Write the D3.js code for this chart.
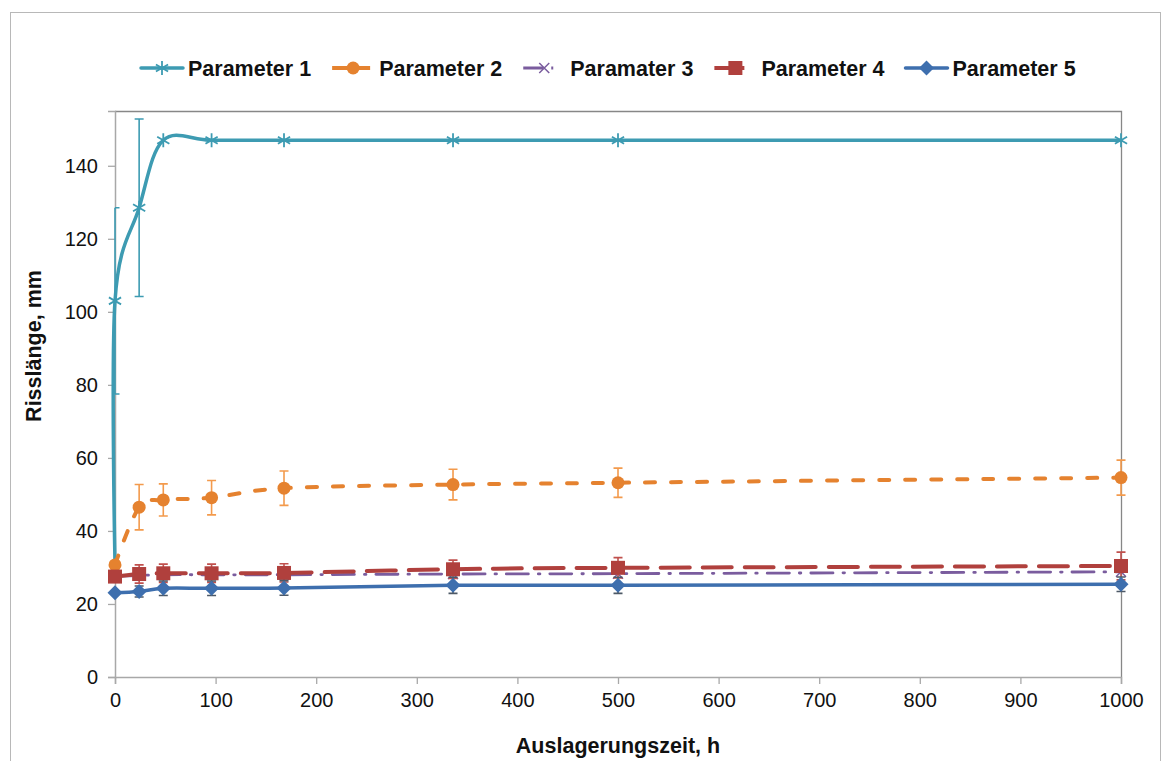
<!DOCTYPE html>
<html>
<head>
<meta charset="utf-8">
<script src="https://cdn.jsdelivr.net/npm/d3@7"></script>
<style>
  html, body { margin: 0; padding: 0; background: #fff; }
  svg { display: block; font-family: "Liberation Sans", Arial, sans-serif; }
</style>
</head>
<body>
<svg id="chart" width="1171" height="761"></svg>
<script>
// Auslagerungszeit in h
const times = [0, 24, 48, 96, 168, 336, 500, 1000];

// Parameter 1 starts with two readings at t = 0
const p1Times  = [0, 0, 24, 48, 96, 168, 336, 500, 1000];
const p1Values = [31, 103, 128.5, 147, 147, 147, 147, 147, 147];
const p1Errors = [0, 25.5, 24.3, 0, 0, 0, 0, 0, 0];
const p1Marked = [false, true, true, true, true, true, true, true, true];

const p2Values = [30.7, 46.5, 48.5, 49.1, 51.7, 52.7, 53.2, 54.6];
const p2Errors = [0, 6.2, 4.4, 4.7, 4.7, 4.2, 4.0, 4.8];

const p3Values = [27.6, 27.8, 28.0, 28.0, 28.0, 28.2, 28.3, 28.8];
const p3Errors = [0, 0, 0, 0, 0, 0, 0, 0];

const p4Values = [27.5, 28.2, 28.4, 28.4, 28.5, 29.5, 29.9, 30.4];
const p4Errors = [0, 2.5, 2.5, 2.5, 2.5, 2.5, 2.8, 3.8];

const p5Values = [23.1, 23.4, 24.3, 24.3, 24.4, 25.1, 25.1, 25.4];
const p5Errors = [0, 1.5, 2.0, 2.0, 2.0, 2.2, 2.2, 2.0];

const seriesNames = ["Parameter 1", "Parameter 2", "Paramater 3", "Parameter 4", "Parameter 5"];

const xTicks = [0, 100, 200, 300, 400, 500, 600, 700, 800, 900, 1000];
const yTicks = [0, 20, 40, 60, 80, 100, 120, 140];

const xTitle = "Auslagerungszeit, h";
const yTitle = "Risslänge, mm";

// ---------------------------------------------------------------
const svg = d3.select("#chart");
const plot = { left: 115, right: 1121, top: 111, bottom: 677 };

const x = d3.scaleLinear().domain([0, 1000]).range([plot.left, plot.right]);
const y = d3.scaleLinear().domain([0, 155]).range([plot.bottom, plot.top]);

// outer frame
svg.append("rect")
  .attr("x", 10.5).attr("y", 12.5).attr("width", 1150).attr("height", 800)
  .attr("fill", "none").attr("stroke", "#b8b8b8").attr("stroke-width", 1);

// plot frame: top and right edges
svg.append("path")
  .attr("d", `M${plot.left},${plot.top + 0.5}H${plot.right + 0.5}V${plot.bottom}`)
  .attr("fill", "none").attr("stroke", "#878787").attr("stroke-width", 1.3);

// axes
const axisColor = "#a8a8a8";
const gx = svg.append("g").attr("transform", `translate(0,${plot.bottom})`)
  .call(d3.axisBottom(x).tickValues(xTicks).tickSize(7).tickPadding(9).tickFormat(d3.format("d")));
const gy = svg.append("g").attr("transform", `translate(${plot.left},0)`)
  .call(d3.axisLeft(y).tickValues(yTicks).tickSize(7).tickPadding(10).tickFormat(d3.format("d")));
[gx, gy].forEach(g => {
  g.select(".domain").attr("stroke", axisColor).attr("stroke-width", 1.5);
  g.selectAll(".tick line").attr("stroke", axisColor).attr("stroke-width", 1.3);
  g.selectAll(".tick text").attr("fill", "#111").attr("font-size", 20)
    .attr("font-family", "Liberation Sans, Arial, sans-serif");
});

// axis titles
svg.append("text")
  .attr("x", (plot.left + plot.right) / 2).attr("y", 753)
  .attr("text-anchor", "middle").attr("font-size", 21.5).attr("font-weight", "bold")
  .attr("fill", "#111").text(xTitle);
svg.append("text")
  .attr("transform", `translate(41,346) rotate(-90)`)
  .attr("text-anchor", "middle").attr("font-size", 21.5).attr("font-weight", "bold")
  .attr("fill", "#111").text(yTitle);

// ---------------------------------------------------------------
// marker shapes
function drawMarker(g, kind, cx, cy, color) {
  if (kind === "asterisk") {
    const r = 7;
    const d = [[0, -r, 0, r], [-r * 0.87, -r * 0.5, r * 0.87, r * 0.5], [-r * 0.87, r * 0.5, r * 0.87, -r * 0.5]]
      .map(s => `M${cx + s[0]},${cy + s[1]}L${cx + s[2]},${cy + s[3]}`).join("");
    g.append("path").attr("d", d).attr("stroke", color).attr("stroke-width", 1.8).attr("fill", "none");
  } else if (kind === "circle") {
    g.append("circle").attr("cx", cx).attr("cy", cy).attr("r", 6.5).attr("fill", color);
  } else if (kind === "cross") {
    const r = 5;
    g.append("path").attr("d", `M${cx - r},${cy - r}L${cx + r},${cy + r}M${cx - r},${cy + r}L${cx + r},${cy - r}`)
      .attr("stroke", color).attr("stroke-width", 1.5).attr("fill", "none");
  } else if (kind === "square") {
    g.append("rect").attr("x", cx - 7).attr("y", cy - 7).attr("width", 14).attr("height", 14)
      .attr("fill", color);
  } else if (kind === "diamond") {
    const r = 7.5;
    g.append("path").attr("d", `M${cx},${cy - r}L${cx + r},${cy}L${cx},${cy + r}L${cx - r},${cy}Z`)
      .attr("fill", color);
  }
}

const series = [
  { name: seriesNames[0], xs: p1Times, ys: p1Values, err: p1Errors, shown: p1Marked,
    color: "#3d9bb2", errColor: "#3d9bb2", width: 3.5, dash: null, marker: "asterisk", legendDash: null },
  { name: seriesNames[1], xs: times, ys: p2Values, err: p2Errors, shown: null,
    color: "#e5822f", errColor: "#f39a4c", width: 4, dash: "10 16", marker: "circle", legendDash: "16 6 16" },
  { name: seriesNames[2], xs: times, ys: p3Values, err: p3Errors, shown: null,
    color: "#7a5c9e", errColor: "#7a5c9e", width: 2.8, dash: "22 10 1.5 10", marker: "cross", legendDash: "20 8 2 40" },
  { name: seriesNames[3], xs: times, ys: p4Values, err: p4Errors, shown: null,
    color: "#b0403d", errColor: "#c0504d", width: 4, dash: "29 13", marker: "square", legendDash: "30 40" },
  { name: seriesNames[4], xs: times, ys: p5Values, err: p5Errors, shown: null,
    color: "#3e6fae", errColor: "#4d5966", width: 3.5, dash: null, marker: "diamond", legendDash: null }
];

const smooth = d3.line().curve(d3.curveCardinal.tension(0));

series.forEach(s => {
  const g = svg.append("g");
  const pts = s.xs.map((t, i) => [x(t), y(s.ys[i])]);
  g.append("path")
    .attr("d", smooth(pts))
    .attr("fill", "none").attr("stroke", s.color).attr("stroke-width", s.width)
    .attr("stroke-linecap", "round").attr("stroke-linejoin", "round")
    .attr("stroke-dasharray", s.dash);

  // error bars (caps kept inside the plot area)
  s.xs.forEach((t, i) => {
    const e = s.err[i];
    if (!e) return;
    const cx = x(t), y1 = y(s.ys[i] + e), y2 = y(s.ys[i] - e);
    const lx = Math.max(plot.left, cx - 4.5), rx = cx + 4.5;
    g.append("path")
      .attr("d", `M${cx},${y1}V${y2}M${lx},${y1}H${rx}M${lx},${y2}H${rx}`)
      .attr("stroke", s.errColor).attr("stroke-width", 1.6).attr("fill", "none");
  });

  s.xs.forEach((t, i) => {
    if (s.shown && !s.shown[i]) return;
    drawMarker(g, s.marker, x(t), y(s.ys[i]), s.color);
  });
});

// ---------------------------------------------------------------
// legend
const legend = svg.append("g");
let lx = 141;
const ly = 68;
series.forEach(s => {
  const item = legend.append("g");
  item.append("line")
    .attr("x1", lx).attr("x2", lx + 42).attr("y1", ly).attr("y2", ly)
    .attr("stroke", s.color).attr("stroke-width", s.width)
    .attr("stroke-linecap", s.legendDash ? "butt" : "round")
    .attr("stroke-dasharray", s.legendDash);
  drawMarker(item, s.marker, lx + 21, ly, s.color);
  const txt = item.append("text")
    .attr("x", lx + 47).attr("y", ly + 8)
    .attr("font-size", 21.5).attr("font-weight", "bold").attr("fill", "#111")
    .text(s.name);
  lx += 47 + txt.node().getComputedTextLength() + 21;
});
</script>
</body>
</html>
